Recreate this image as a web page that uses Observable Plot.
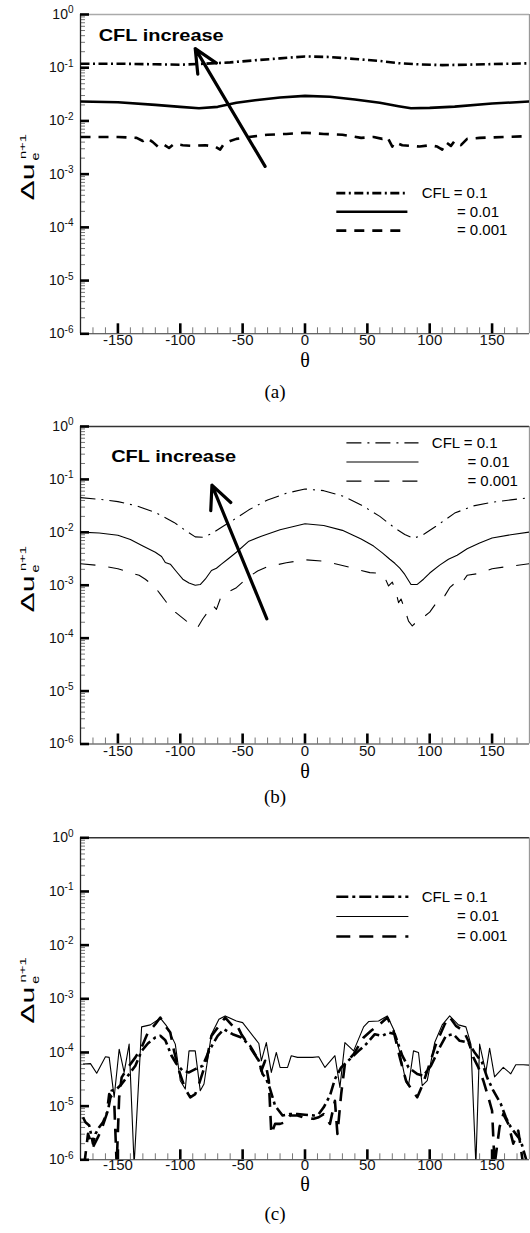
<!DOCTYPE html>
<html>
<head>
<meta charset="utf-8">
<script src="https://cdn.jsdelivr.net/npm/d3@7"></script>
<script src="https://cdn.jsdelivr.net/npm/@observablehq/plot@0.6"></script>
<style>
html,body{margin:0;padding:0;background:#fff;}
#chart{width:530px;height:1233px;overflow:hidden;}
#chart svg{display:block;}
</style>
</head>
<body>
<div id="chart"></div>
<script>
// ================= DATA =================
// Panel (a)
const aDashDotTheta = [-180,-150,-120,-100,-80,-60,-40,-20,0,20,40,60,75,90,110,130,150,180];
const aDashDotValue = [0.119,0.119,0.116,0.114,0.119,0.126,0.138,0.150,0.163,0.159,0.146,0.134,0.122,0.116,0.112,0.114,0.117,0.121];
const aSolidTheta = [-180,-150,-120,-100,-85,-70,-55,-40,-20,0,20,40,60,75,85,100,120,150,180];
const aSolidValue = [0.0232,0.0225,0.0200,0.0184,0.0173,0.0184,0.0219,0.0245,0.0276,0.0296,0.0284,0.0253,0.0219,0.0189,0.0173,0.0176,0.0186,0.0212,0.0232];
const aDashedTheta = [-180,-150,-135,-130,-127,-122,-118,-114,-109,-105,-98,-90,-80,-72,-68,-65,-60,-55,-45,-30,-15,0,15,30,45,55,62,66,70,72,78,85,92,100,106,110,113,117,120,125,130,140,160,180];
const aDashedValue = [0.0050,0.0050,0.0048,0.0042,0.0048,0.0040,0.0033,0.0037,0.0031,0.0037,0.0035,0.0034,0.0035,0.0033,0.0029,0.0037,0.0042,0.0046,0.0050,0.0055,0.0057,0.0060,0.0057,0.0055,0.0048,0.0050,0.0046,0.0050,0.0033,0.0040,0.0035,0.0034,0.0033,0.0035,0.0033,0.0029,0.0040,0.0034,0.0042,0.0035,0.0046,0.0048,0.0050,0.0052];

// Panel (b)
const bDashDotTheta = [-180,-165,-150,-135,-120,-105,-95,-88,-82,-75,-65,-55,-45,-30,-15,0,15,30,45,60,72,80,87,95,105,120,135,150,165,180];
const bDashDotValue = [0.0453,0.0421,0.0381,0.0316,0.0237,0.0154,0.0105,0.0082,0.0081,0.0094,0.0133,0.0186,0.0266,0.041,0.0547,0.066,0.0613,0.0487,0.033,0.020,0.0121,0.0091,0.0077,0.0091,0.013,0.0231,0.0316,0.037,0.041,0.0453];
const bSolidTheta = [-180,-165,-150,-140,-130,-120,-115,-112,-108,-103,-98,-93,-88,-84,-80,-75,-71,-67,-62,-55,-45,-35,-20,0,15,30,45,55,62,68,72,76,80,85,90,95,100,108,115,122,130,140,150,165,180];
const bSolidValue = [0.0101,0.0097,0.0088,0.0073,0.0055,0.0042,0.0035,0.0027,0.0025,0.0018,0.0013,0.0011,0.0010,0.00103,0.0013,0.0019,0.0021,0.0025,0.0031,0.0042,0.0068,0.0084,0.0112,0.0145,0.0135,0.0109,0.0075,0.0055,0.0041,0.0031,0.0026,0.0021,0.0016,0.00103,0.00104,0.0013,0.0017,0.0024,0.0031,0.0037,0.0049,0.0063,0.0078,0.0090,0.0101];
const bDashedTheta = [-180,-165,-150,-140,-133,-128,-124,-120,-116,-112,-108,-104,-99,-95,-90,-86,-82,-78,-74,-71,-68,-64,-60,-55,-50,-44,-38,-30,-15,0,15,30,42,52,60,64,67,70,73,75,77,80,83,86,90,95,100,104,108,112,116,120,125,130,140,150,165,180];
const bDashedValue = [0.00255,0.00237,0.00205,0.00173,0.00154,0.00130,0.00109,0.00090,0.00068,0.00051,0.00038,0.00031,0.00025,0.00021,0.00018,0.00016,0.00023,0.00031,0.00042,0.00035,0.00055,0.00063,0.00078,0.00090,0.00115,0.00150,0.00186,0.00224,0.00266,0.00303,0.00286,0.00237,0.00199,0.00173,0.00168,0.00139,0.00097,0.00115,0.00073,0.00047,0.00055,0.00035,0.00021,0.00017,0.00021,0.00025,0.00031,0.00042,0.00055,0.00063,0.00090,0.00109,0.00104,0.00154,0.00168,0.00205,0.00230,0.00255];

// Panel (c)
const cDashDotTheta = [-178,-176,-173,-170,-168,-165,-162,-158,-155,-151,-147,-142,-136,-131,-126,-120,-116,-112,-107,-103,-98,-93,-88,-82,-77,-70,-65,-58,-51,-44,-37,-34,-31,-28,-24,-18,-12,-6,0,7,11,15,20,24,29,36,43,49,56,62,67,72,78,83,90,95,101,108,113,119,124,131,136,142,146,151,157,161,165,169,173,176,178];
const cDashDotValue = [6.2e-6,5.0e-6,4.35e-6,2.0e-6,3.04e-6,4.05e-6,5.0e-6,8.2e-6,1.94e-5,2.08e-5,2.58e-5,3.69e-5,5.65e-5,1.07e-4,1.47e-4,1.9e-4,2.04e-4,1.69e-4,8.7e-5,6.1e-5,4.56e-5,4.25e-5,4.9e-5,5.65e-5,1.07e-4,2.04e-4,2.71e-4,2.19e-4,1.9e-4,1.33e-4,7.0e-5,3.96e-5,3.2e-5,2.08e-5,1.02e-5,6.7e-6,7.1e-6,7.1e-6,6.9e-6,6.7e-6,7.1e-6,9.5e-6,1.57e-5,3.2e-5,5.26e-5,7.5e-5,1.07e-4,1.43e-4,2.19e-4,2.04e-4,2.35e-4,2.2e-4,8.7e-5,5.26e-5,3.96e-5,3.69e-5,5.65e-5,1.24e-4,2.04e-4,2.19e-4,1.65e-4,1.53e-4,1.0e-4,6.5e-5,3.43e-5,1.94e-5,1.1e-5,6.2e-6,4.05e-6,3.04e-6,2.29e-6,1.29e-6,9e-7];
const cSolidTheta = [-178,-172,-167,-160,-157,-153,-149,-145,-141,-137,-131,-124,-116,-111,-104,-100,-96,-93,-88,-84,-81,-75,-69,-64,-55,-50,-37,-35,-31,-27,-23,-20,-14,-11,-6,6,11,16,24,28,32,39,47,51,59,66,71,76,81,83,87,91,94,98,104,110,116,123,129,133,137,140,145,148,152,159,165,169,175,180];
const cSolidValue = [6.1e-5,6.2e-5,4.1e-5,8.3e-5,8.1e-5,1.46e-5,1.15e-4,4.25e-5,1.43e-4,8e-7,3.0e-4,3.27e-4,4.35e-4,3.13e-4,1.43e-4,2.98e-5,2.08e-5,1.07e-4,1.07e-4,1.94e-5,2.58e-5,2.19e-4,4.16e-4,4.8e-4,3.87e-4,3.6e-4,1.47e-4,7.0e-5,1.53e-4,4.25e-5,1.0e-4,5.26e-5,5.26e-5,8.7e-5,8.1e-5,8.1e-5,8.3e-5,5.26e-5,8.7e-5,2.24e-5,1.53e-4,1.07e-4,3.0e-4,3.77e-4,3.87e-4,4.8e-4,2.71e-4,1.0e-4,2.77e-5,2.4e-5,1.07e-4,1.0e-4,2.4e-5,2.98e-5,1.53e-4,3.27e-4,4.8e-4,3.27e-4,3.0e-4,1.43e-4,8e-7,1.43e-4,4.25e-5,1.2e-4,3.5e-5,5.26e-5,4e-5,5.9e-5,5.9e-5,5.8e-5];
const cDashedTheta = [-177,-174,-170,-166,-163,-159,-157,-153,-151,-149,-147,-142,-136,-131,-126,-120,-116,-112,-108,-105,-101,-96,-92,-88,-85,-79,-75,-69,-64,-58,-55,-51,-44,-37,-35,-32,-29,-27,-24,-20,-16,-12,-6,0,7,11,15,20,24,26,29,32,39,47,53,60,66,71,76,81,86,90,94,99,105,112,116,121,127,131,135,139,143,147,150,152,156,159,163,167,171,175];
const cDashedValue = [8e-7,3.04e-6,1.72e-6,2.64e-6,3.77e-6,7.1e-6,1.68e-5,1.26e-5,8e-7,1.46e-5,3.43e-5,5.26e-5,8.1e-5,1.24e-4,2.35e-4,3.36e-4,4.47e-4,3.13e-4,2.35e-4,1.07e-4,4.56e-5,2.08e-5,1.46e-5,1.68e-5,2.58e-5,7.0e-5,2.04e-4,3.13e-4,4.47e-4,3.13e-4,3.36e-4,2.19e-4,1.24e-4,7.0e-5,4.56e-5,7.0e-5,2.98e-5,3.04e-6,4.67e-6,4.67e-6,5.0e-6,6.7e-6,6.7e-6,6.0e-6,5.8e-6,6.2e-6,7.1e-6,4.67e-6,1.26e-5,3.04e-6,1.68e-5,6.1e-5,9.3e-5,1.9e-4,2.53e-4,3.36e-4,4.47e-4,2.53e-4,8.1e-5,2.98e-5,1.94e-5,1.46e-5,2.4e-5,5.26e-5,1.43e-4,3.36e-4,4.6e-4,3.13e-4,2.53e-4,1.65e-4,8.1e-5,5.26e-5,2.98e-5,1.46e-5,8.2e-6,8e-7,4.05e-6,7.1e-6,4.67e-6,2.0e-6,3.5e-6,8e-7];

// Ticks & labels
const xMajorTicks = [-150,-100,-50,0,50,100,150];
const xMinorTicks = [-170,-160,-140,-130,-120,-110,-90,-80,-70,-60,-40,-30,-20,-10,10,20,30,40,60,70,80,90,110,120,130,140,160,170];
const yDecadeTicks = [1e-6,1e-5,1e-4,1e-3,1e-2,1e-1,1];
const yDecadeExponents = ["-6","-5","-4","-3","-2","-1","0"];
const yMinorTicks = d3.range(-6, 0).flatMap(k => d3.range(2, 10).map(m => m * Math.pow(10, k)));
const legendLabels = ["CFL = 0.1", "= 0.01", "= 0.001"];
const annotationText = "CFL increase";
const captions = ["(a)", "(b)", "(c)"];
const xTitle = "θ";

// ================= LAYOUT / STYLE =================
const FONT = "'Liberation Sans', Arial, Helvetica, sans-serif";
const SERIF = "'Liberation Serif', 'Times New Roman', Times, serif";
const W = 530, H = 411, ML = 80, MR = 1;

const panels = [
  {
    caption: captions[0], mt: 14, mb: 77.7, tickDy: 11, thetaDy: 33, capDy: 64, topStroke: "#aaa",
    series: [
      {theta: aDashDotTheta, value: aDashDotValue, width: 2.6, dash: "9,3.5,2,3.5"},
      {theta: aSolidTheta, value: aSolidValue, width: 2.6, dash: null},
      {theta: aDashedTheta, value: aDashedValue, width: 2.6, dash: "10,8"}
    ],
    legend: {rows: [4.4e-4, 1.97e-4, 8.7e-5], x1: 25.5, x2: 82.5, tx: [93.6, 121.8, 121.8]},
    arrow: {x1: -32, y1: 1.4e-3, x2: -88, y2: 0.228},
    note: {x: -165.4, y: 0.396}
  },
  {
    caption: captions[1], mt: 15, mb: 78.5, tickDy: 11.5, thetaDy: 33.5, capDy: 59, topStroke: "#333",
    series: [
      {theta: bDashDotTheta, value: bDashDotValue, width: 1.1, dash: "15,6,2,6"},
      {theta: bSolidTheta, value: bSolidValue, width: 1.1, dash: null},
      {theta: bDashedTheta, value: bDashedValue, width: 1.1, dash: "15,13"}
    ],
    legend: {rows: [0.49, 0.213, 0.093], x1: 33.6, x2: 91.4, tx: [101.7, 130.2, 130.2]},
    arrow: {x1: -30.6, y1: 2.32e-4, x2: -74.6, y2: 0.078},
    note: {x: -155.4, y: 0.268}
  },
  {
    caption: captions[2], mt: 15.3, mb: 73.7, tickDy: 10.5, thetaDy: 31.5, capDy: 60, topStroke: "#333",
    series: [
      {theta: cDashDotTheta, value: cDashDotValue, width: 2.6, dash: "12,4,3,4"},
      {theta: cSolidTheta, value: cSolidValue, width: 1.1, dash: null},
      {theta: cDashedTheta, value: cDashedValue, width: 2.6, dash: "14,9"}
    ],
    legend: {rows: [0.0796, 0.0342, 0.0145], x1: 25.5, x2: 83.3, tx: [93.6, 121.8, 121.8]},
    arrow: null,
    note: null
  }
];

function rows(theta, value) { return theta.map((t, i) => ({theta: t, value: value[i]})); }

function makePanel(cfg) {
  const frameW = W - ML - MR;
  const frameH = H - cfg.mt - cfg.mb;
  const marks = [];

  // minor ticks (pointing inward)
  marks.push(Plot.tickX(xMinorTicks, {x: d => d, insetTop: frameH - 6, stroke: "#777", strokeWidth: 1}));
  marks.push(Plot.tickY(yMinorTicks, {y: d => d, insetRight: frameW - 5, stroke: "#777", strokeWidth: 1}));

  // frame
  marks.push(Plot.ruleY([1], {stroke: cfg.topStroke, strokeWidth: 1.4}));
  marks.push(Plot.ruleX([180], {stroke: "#999", strokeWidth: 1.3}));
  marks.push(Plot.ruleX([-180], {stroke: "#222", strokeWidth: 1.3}));
  marks.push(Plot.ruleY([1e-6], {stroke: "#333", strokeWidth: 1.1}));

  // major ticks
  marks.push(Plot.tickX(xMajorTicks, {x: d => d, insetTop: frameH - 10, stroke: "#000", strokeWidth: 2.6}));
  marks.push(Plot.tickY(yDecadeTicks, {y: d => d, insetRight: frameW - 9, stroke: "#000", strokeWidth: 2.6}));

  // data lines
  for (const s of cfg.series) {
    marks.push(Plot.line(rows(s.theta, s.value), {
      x: "theta", y: "value", stroke: "#000", strokeWidth: s.width,
      strokeDasharray: s.dash, clip: true, strokeLinejoin: "round", strokeLinecap: "butt"
    }));
  }

  // legend
  const leg = cfg.series.map((s, i) => ({
    label: legendLabels[i], y: cfg.legend.rows[i], x1: cfg.legend.x1, x2: cfg.legend.x2,
    tx: cfg.legend.tx[i], width: s.width, dash: s.dash
  }));
  leg.forEach(l => {
    marks.push(Plot.ruleY([l], {y: "y", x1: "x1", x2: "x2", stroke: "#000", strokeWidth: l.width, strokeDasharray: l.dash}));
  });
  marks.push(Plot.text(leg, {x: "tx", y: "y", text: "label", textAnchor: "start", fontFamily: FONT, fontSize: 15, fill: "#000"}));

  // tick labels
  marks.push(Plot.text(xMajorTicks, {x: d => d, frameAnchor: "bottom", dy: cfg.tickDy, text: d => String(d), fontFamily: FONT, fontSize: 15, fill: "#111"}));
  marks.push(Plot.text(yDecadeTicks, {y: d => d, frameAnchor: "left", dx: -7, textAnchor: "end", text: (d, i) => "10^" + yDecadeExponents[i], fontFamily: FONT, fontSize: 14, fill: "#111"}));

  // axis titles & caption
  marks.push(Plot.text([xTitle], {frameAnchor: "bottom", dy: cfg.thetaDy, text: d => d, fontFamily: SERIF, fontSize: 20, fill: "#000"}));
  marks.push(Plot.text([cfg.caption], {frameAnchor: "bottom", dx: -30, dy: cfg.capDy, text: d => d, fontFamily: SERIF, fontSize: 19, fill: "#000"}));
  marks.push(Plot.text(["Δu"], {frameAnchor: "top-left", dx: -46.5, dy: 186, rotate: -90, textAnchor: "start", text: d => d, fontFamily: FONT, fontSize: 18, fill: "#000"}));

  // annotation
  if (cfg.arrow) {
    marks.push(Plot.arrow([cfg.arrow], {x1: "x1", y1: "y1", x2: "x2", y2: "y2", stroke: "#000", strokeWidth: 3.2, headLength: 12, headAngle: 50}));
  }
  if (cfg.note) {
    marks.push(Plot.text([cfg.note], {x: "x", y: "y", text: () => annotationText, textAnchor: "start", fontFamily: FONT, fontWeight: "bold", fontSize: 17, fill: "#000"}));
  }

  const svg = Plot.plot({
    width: W, height: H,
    marginLeft: ML, marginRight: MR, marginTop: cfg.mt, marginBottom: cfg.mb,
    x: {domain: [-180, 180], axis: null},
    y: {type: "log", domain: [1e-6, 1], axis: null},
    style: {fontFamily: FONT, background: "#fff", overflow: "visible"},
    marks
  });
  postProcess(svg);
  return svg;
}

function postProcess(svg) {
  d3.select(svg).selectAll("text").each(function () {
    const t = this.textContent;
    const sel = d3.select(this);
    const m = /^10\^(-?\d+)$/.exec(t);
    if (m) {
      sel.text(null);
      sel.append("tspan").text("10");
      sel.append("tspan").attr("dy", -5.5).attr("font-size", 10).text(m[1]);
    } else if (t === annotationText) {
      sel.attr("textLength", 125).attr("lengthAdjust", "spacingAndGlyphs");
    } else if (t === "Δu") {
      sel.text(null).attr("y", null).attr("dy", null);
      sel.append("tspan").attr("textLength", 37).attr("lengthAdjust", "spacingAndGlyphs").text("Δu");
      sel.append("tspan").attr("font-size", 10).attr("dx", 3).attr("dy", 4.5)
        .attr("textLength", 8).attr("lengthAdjust", "spacingAndGlyphs").text("e");
      sel.append("tspan").attr("font-size", 9.5).attr("dx", -6.6).attr("dy", -13)
        .attr("textLength", 25).attr("lengthAdjust", "spacingAndGlyphs").text("n+1");
    }
  });
}

const chart = document.getElementById("chart");
panels.forEach(p => chart.appendChild(makePanel(p)));
</script>
</body>
</html>
